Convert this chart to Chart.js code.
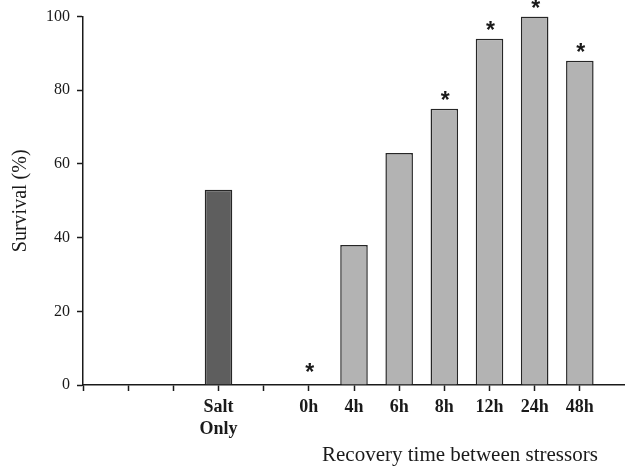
<!DOCTYPE html>
<html>
<head>
<meta charset="utf-8">
<script src="https://cdn.jsdelivr.net/npm/chart.js@4.4.1/dist/chart.umd.min.js"></script>
<style>
  html, body { margin: 0; padding: 0; background: #ffffff; }
  #wrap { width: 625px; height: 468px; position: relative; }
</style>
</head>
<body>
<div id="wrap"><canvas id="c"></canvas></div>
<script>
// ---- data ----
const categories = ['', '', '', ['Salt', 'Only'], '', '0h', '4h', '6h', '8h', '12h', '24h', '48h', ''];
const survival   = [null, null, null, 53, null, 0, 38, 63, 75, 94, 100, 88, null];
const significant = [false, false, false, false, false, true, false, false, true, true, true, true, false];
const yTicks = [0, 20, 40, 60, 80, 100];
const yTitle = 'Survival (%)';
const xTitle = 'Recovery time between stressors';

const serif = '"Liberation Serif", "Times New Roman", serif';
const ink = '#1a1a1a';

const barColors = categories.map(c => (Array.isArray(c) ? '#5e5e5e' : '#b3b3b3'));

const starPlugin = {
  id: 'stars',
  afterDatasetsDraw(chart) {
    const ctx = chart.ctx;
    const meta = chart.getDatasetMeta(0);
    ctx.save();
    ctx.fillStyle = ink;
    ctx.font = 'bold 23px "Liberation Sans", Arial, sans-serif';
    ctx.textAlign = 'center';
    ctx.textBaseline = 'alphabetic';
    const m = ctx.measureText('*');
    const shift = (m.actualBoundingBoxDescent - m.actualBoundingBoxAscent) / 2;
    meta.data.forEach((bar, i) => {
      if (!significant[i] || survival[i] === null) return;
      const center = Math.min(bar.y - 13, bar.base - 18);
      ctx.fillText('*', bar.x + 1, center - shift);
    });
    ctx.restore();
  }
};

const xTitlePlugin = {
  id: 'xTitle',
  afterDraw(chart) {
    const ctx = chart.ctx;
    const xs = chart.scales.x;
    const right = xs.getPixelForValue(11);
    ctx.save();
    ctx.fillStyle = ink;
    ctx.font = '21px ' + serif;
    ctx.textAlign = 'right';
    ctx.textBaseline = 'middle';
    ctx.fillText(xTitle, right + 18, 455);
    ctx.restore();
  }
};

new Chart(document.getElementById('c'), {
  type: 'bar',
  data: {
    labels: categories,
    datasets: [{
      data: survival,
      backgroundColor: barColors,
      borderColor: '#262626',
      borderWidth: 1.5,
      borderSkipped: 'bottom',
      barPercentage: 0.61,
      categoryPercentage: 1.0
    }]
  },
  options: {
    responsive: true,
    maintainAspectRatio: false,
    animation: false,
    layout: { padding: { top: 16, right: 0, bottom: 0, left: 0 } },
    plugins: { legend: { display: false }, tooltip: { enabled: false } },
    scales: {
      x: {
        type: 'category',
        offset: false,
        border: { display: true, color: ink, width: 1.5 },
        grid: {
          display: true,
          offset: false,
          drawOnChartArea: false,
          drawTicks: true,
          tickLength: 6,
          tickWidth: 1.5,
          tickColor: (c) => (c.index === categories.length - 1 ? 'rgba(0,0,0,0)' : ink)
        },
        ticks: {
          autoSkip: false,
          maxRotation: 0,
          padding: 6,
          color: ink,
          font: { family: serif, size: 18, weight: 'bold', lineHeight: 1.2 }
        },
        afterFit: (s) => { s.height = 83; s.paddingLeft = 0; s.paddingRight = 0; }
      },
      y: {
        min: 0,
        max: 100,
        border: { display: true, color: ink, width: 1.5 },
        grid: {
          display: true,
          drawOnChartArea: false,
          drawTicks: true,
          tickLength: 6,
          tickWidth: 1.5,
          tickColor: ink
        },
        afterBuildTicks: (s) => { s.ticks = yTicks.map(v => ({ value: v })); },
        ticks: {
          padding: 7,
          color: ink,
          font: { family: serif, size: 16 }
        },
        title: {
          display: true,
          text: yTitle,
          color: ink,
          padding: { top: 9, bottom: 0 },
          font: { family: serif, size: 20 }
        },
        afterFit: (s) => { s.width = 83; }
      }
    }
  },
  plugins: [starPlugin, xTitlePlugin]
});
</script>
</body>
</html>
